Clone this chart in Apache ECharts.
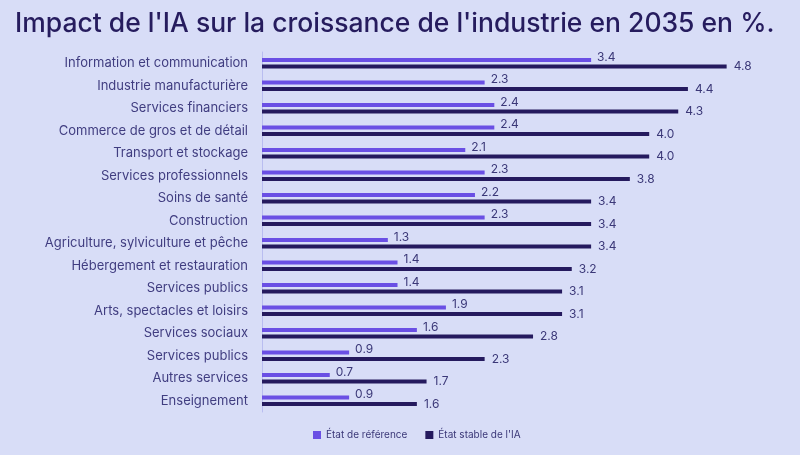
<!DOCTYPE html>
<html><head><meta charset="utf-8">
<script src="https://cdn.jsdelivr.net/npm/echarts@6/dist/echarts.min.js"></script>
<style>html,body{margin:0;padding:0;background:#d8ddf7}#c{width:800px;height:455px}</style>
</head><body><div id="c"></div>
<script>
const categories = ["Information et communication","Industrie manufacturière","Services financiers","Commerce de gros et de détail","Transport et stockage","Services professionnels","Soins de santé","Construction","Agriculture, sylviculture et pêche","Hébergement et restauration","Services publics","Arts, spectacles et loisirs","Services sociaux","Services publics","Autres services","Enseignement"];
const reference = [3.4,2.3,2.4,2.4,2.1,2.3,2.2,2.3,1.3,1.4,1.4,1.9,1.6,0.9,0.7,0.9];
const stable = [4.8,4.4,4.3,4.0,4.0,3.8,3.4,3.4,3.4,3.2,3.1,3.1,2.8,2.3,1.7,1.6];
const seriesNames = ["État de référence","État stable de l'IA"];
const font = "Inter, 'Noto Sans', sans-serif";
const chart = echarts.init(document.getElementById('c'), null, {renderer:'canvas'});
chart.setOption({
  backgroundColor:'#d8ddf7',
  animation:false,
  title:{text:"Impact de l'IA sur la croissance de l'industrie en 2035 en %.",left:10,top:6,
    textStyle:{fontFamily:font,fontSize:26.5,fontWeight:500,color:'#261c5e'}},
  legend:{bottom:10,left:308,itemWidth:8,itemHeight:8,itemGap:18,icon:'rect',
    textStyle:{fontFamily:font,fontSize:10,color:'#3b3878'},data:seriesNames},
  grid:{left:262,right:54,top:52,bottom:43},
  xAxis:{type:'value',min:0,max:5,show:false},
  yAxis:{type:'category',data:categories,inverse:true,
    axisLine:{show:true,lineStyle:{color:'#b9bdf0',width:1}},axisTick:{show:false},
    axisLabel:{fontFamily:font,fontSize:13,color:'#403d80',margin:14}},
  series:[
    {name:seriesNames[0],type:'bar',data:reference,barWidth:4,barGap:'60%',
      itemStyle:{color:'#6a4fe4'},
      label:{show:true,position:'right',offset:[1,-3],formatter:p=>p.value.toFixed(1),fontFamily:font,fontSize:12,color:'#3b3878'}},
    {name:seriesNames[1],type:'bar',data:stable,barWidth:4,
      itemStyle:{color:'#251a5e'},
      label:{show:true,position:'right',offset:[2,0],formatter:p=>p.value.toFixed(1),fontFamily:font,fontSize:12,color:'#3b3878'}}
  ]
});
</script></body></html>
